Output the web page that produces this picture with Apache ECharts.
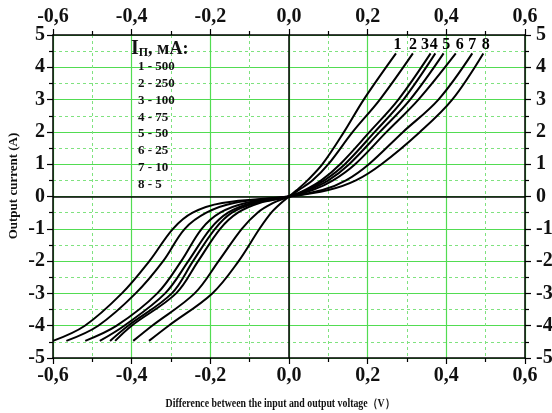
<!DOCTYPE html>
<html>
<head>
<meta charset="utf-8">
<script src="https://cdn.jsdelivr.net/npm/echarts@6/dist/echarts.min.js"></script>
<style>
  html, body { margin: 0; padding: 0; background: #fff; }
  #chart { width: 552px; height: 413px; }
</style>
</head>
<body>
<div id="chart"></div>
<script>
  // current levels (A) shared by every curve
  const currentLevels = [-4.47, -4, -3, -2, -1, -0.5, -0.2, 0, 0.2, 0.5, 1, 2, 3, 4.43];

  // voltage (V) of each curve at the levels above
  const curve1 = [-0.356, -0.306, -0.195, -0.128, -0.075, -0.045, -0.02, 0, 0.02, 0.047, 0.085, 0.14, 0.19, 0.272];
  const curve2 = [-0.396, -0.348, -0.24, -0.179, -0.12, -0.08, -0.04, 0, 0.025, 0.06, 0.1, 0.162, 0.231, 0.315];
  const curve3 = [-0.442, -0.4, -0.287, -0.231, -0.175, -0.13, -0.075, 0, 0.04, 0.082, 0.13, 0.205, 0.278, 0.36];
  const curve4 = [-0.455, -0.409, -0.298, -0.244, -0.188, -0.145, -0.085, 0, 0.045, 0.09, 0.142, 0.218, 0.291, 0.372];
  const curve5 = [-0.481, -0.419, -0.315, -0.256, -0.2, -0.155, -0.095, 0, 0.05, 0.1, 0.153, 0.231, 0.308, 0.393];
  const curve6 = [-0.518, -0.438, -0.335, -0.274, -0.222, -0.175, -0.11, 0, 0.06, 0.112, 0.168, 0.248, 0.329, 0.424];
  const curve7 = [-0.566, -0.485, -0.39, -0.32, -0.265, -0.21, -0.14, 0, 0.085, 0.145, 0.203, 0.29, 0.38, 0.466];
  const curve8 = [-0.6, -0.519, -0.425, -0.355, -0.295, -0.245, -0.17, 0, 0.1, 0.17, 0.235, 0.333, 0.415, 0.494];
  const curves = [curve1, curve2, curve3, curve4, curve5, curve6, curve7, curve8];

  // numbers written above the curve ends
  const curveNames = ['1', '2', '3', '4', '5', '6', '7', '8'];
  const curveNameX = [0.276, 0.315, 0.346, 0.368, 0.4, 0.434, 0.466, 0.5];
  const curveNameY = 4.68;

  // legend block: supply current per curve
  const supplyCurrent = ['500', '250', '100', '75', '50', '25', '10', '5'];

  const FONT = '"Liberation Serif", "DejaVu Serif", serif';
  const green = '#52dc52';
  const greenDash = '#7fe27f';
  const comma = (v) => v.toFixed(1).replace('.', ',');

  const xAxisBase = {
    type: 'value',
    min: -0.6,
    max: 0.6,
    interval: 0.2,
    axisLine: { show: true, onZero: false, lineStyle: { color: '#000', width: 1.5 } },
    axisTick: { show: true, length: 6, lineStyle: { color: '#000', width: 1.2 } },
    minorTick: { show: true, splitNumber: 2, length: 4, lineStyle: { color: '#000', width: 1.2 } },
    axisLabel: { formatter: comma, fontFamily: FONT, fontWeight: 'bold', fontSize: 20, color: '#111', margin: 8 }
  };
  const yAxisBase = {
    type: 'value',
    min: -5,
    max: 5,
    interval: 1,
    axisLine: { show: true, onZero: false, lineStyle: { color: '#000', width: 1.5 } },
    axisTick: { show: true, length: 6, lineStyle: { color: '#000', width: 1.2 } },
    minorTick: { show: true, splitNumber: 2, length: 4, lineStyle: { color: '#000', width: 1.2 } },
    axisLabel: { fontFamily: FONT, fontWeight: 'bold', fontSize: 20, color: '#111', margin: 8 }
  };

  const series = curves.map((xs, i) => ({
    name: curveNames[i],
    type: 'line',
    data: xs.map((x, k) => [x, currentLevels[k]]),
    symbol: 'none',
    smooth: 0.35,
    lineStyle: { color: '#000', width: 2 },
    z: 5
  }));

  // zero lines
  series[0].markLine = {
    silent: true,
    symbol: 'none',
    label: { show: false },
    lineStyle: { color: '#000', width: 1.5, type: 'solid' },
    data: [{ xAxis: 0 }, { yAxis: 0 }]
  };

  series.push({
    type: 'scatter',
    symbolSize: 0,
    itemStyle: { opacity: 1 },
    data: curveNames.map((n, i) => ({ name: n, value: [curveNameX[i], curveNameY] })),
    label: {
      show: true,
      position: 'inside',
      formatter: '{b}',
      fontFamily: FONT,
      fontWeight: 'bold',
      fontSize: 16,
      color: '#000'
    },
    z: 6
  });

  const chart = echarts.init(document.getElementById('chart'));
  chart.setOption({
    animation: false,
    backgroundColor: '#fff',
    grid: { left: 53, right: 27, top: 35, bottom: 55, outerBoundsMode: 'none', containLabel: false },
    xAxis: [
      Object.assign({}, xAxisBase, {
        position: 'bottom',
        splitLine: { show: true, lineStyle: { color: green, width: 1.2 } },
        minorSplitLine: { show: true, lineStyle: { color: greenDash, width: 1, type: [3, 3] } }
      }),
      Object.assign({}, xAxisBase, { position: 'top', splitLine: { show: false } })
    ],
    yAxis: [
      Object.assign({}, yAxisBase, {
        position: 'left',
        splitLine: { show: true, lineStyle: { color: green, width: 1.2 } },
        minorSplitLine: { show: true, lineStyle: { color: greenDash, width: 1, type: [3, 3] } }
      }),
      Object.assign({}, yAxisBase, {
        position: 'right',
        splitLine: { show: false },
        axisLabel: Object.assign({}, yAxisBase.axisLabel, { margin: 11 })
      })
    ],
    series: series,
    graphic: [
      {
        type: 'text',
        left: 131,
        top: 39,
        z: 10,
        style: {
          text: '{i|I}{s|П}{r|, мА:}',
          fill: '#111',
          rich: {
            i: { fontFamily: FONT, fontWeight: 'bold', fontSize: 20, fill: '#111' },
            s: { fontFamily: FONT, fontWeight: 'bold', fontSize: 12, fill: '#111', padding: [8, 0, 0, 0] },
            r: { fontFamily: FONT, fontWeight: 'bold', fontSize: 18, fill: '#111' }
          }
        }
      },
      {
        type: 'text',
        left: 138,
        top: 58,
        z: 10,
        style: {
          text: supplyCurrent.map((v, i) => curveNames[i] + ' - ' + v).join('\n'),
          fontFamily: FONT,
          fontWeight: 'bold',
          fontSize: 13,
          lineHeight: 16.9,
          fill: '#111'
        }
      },
      {
        type: 'text',
        x: 280,
        y: 404,
        z: 10,
        scaleX: 0.82,
        style: {
          text: 'Difference between the input and output voltage（V）',
          fontFamily: FONT,
          fontWeight: 'bold',
          fontSize: 12,
          fill: '#111',
          align: 'center',
          verticalAlign: 'middle'
        }
      },
      {
        type: 'text',
        x: 14,
        y: 186,
        z: 10,
        rotation: Math.PI / 2,
        style: {
          text: 'Output current (A)',
          fontFamily: FONT,
          fontWeight: 'bold',
          fontSize: 13,
          fill: '#111',
          align: 'center',
          verticalAlign: 'middle'
        }
      }
    ]
  });
</script>
</body>
</html>
